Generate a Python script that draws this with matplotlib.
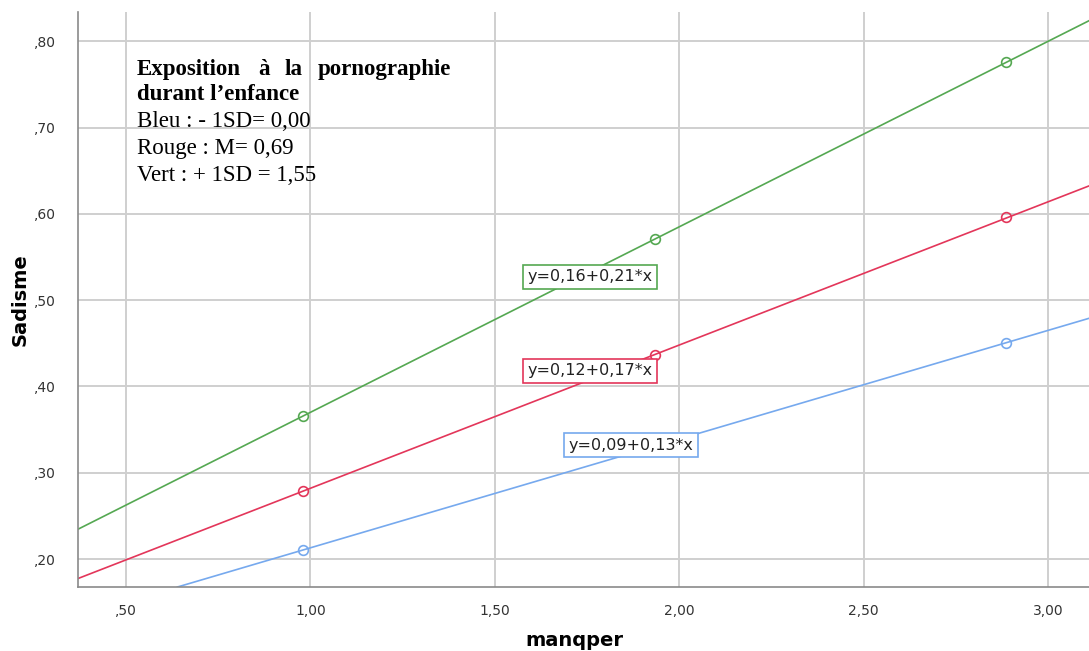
import matplotlib.pyplot as plt
from matplotlib.ticker import FuncFormatter

# values
x_points = [0.98, 1.934, 2.886]
green_y = [0.366, 0.571, 0.776]
red_y = [0.279, 0.437, 0.596]
blue_y = [0.210, 0.330, 0.450]

intercepts = [0.155, 0.116, 0.087]
slopes = [0.215, 0.166, 0.126]
equations = ["y=0,16+0,21*x", "y=0,12+0,17*x", "y=0,09+0,13*x"]
label_pos = [(1.758, 0.527), (1.758, 0.418), (1.869, 0.332)]
colors = ["#55a852", "#e3365a", "#76a9ee"]

x_ticks = [0.5, 1.0, 1.5, 2.0, 2.5, 3.0]
y_ticks = [0.2, 0.3, 0.4, 0.5, 0.6, 0.7, 0.8]

title_words = ["Exposition", "à", "la", "pornographie"]
note_bold = ["durant l\u2019enfance"]
note_plain = ["Bleu : - 1SD= 0,00", "Rouge : M= 0,69", "Vert : + 1SD = 1,55"]


def spss_fmt(v, pos):
    s = f"{v:.2f}".replace(".", ",")
    if s.startswith("0"):
        s = s[1:]
    return s


fig = plt.figure(figsize=(10.89, 6.51), dpi=100)
ax = fig.add_axes([0.0716, 0.0983, 0.9284, 0.8833])

ax.set_xlim(0.37, 3.111)
ax.set_ylim(0.1676, 0.834)

ax.grid(True, color="#cfcfcf", linewidth=1.4)
ax.set_axisbelow(True)

series_y = [green_y, red_y, blue_y]
for b, m, ys, col in zip(intercepts, slopes, series_y, colors):
    ax.axline((0, b), slope=m, color=col, linewidth=1.2, zorder=2)
    ax.plot(x_points, ys, linestyle="none", marker="o", markersize=7,
            markerfacecolor="none", markeredgecolor=col, markeredgewidth=1.2, zorder=3)

for txt, (lx, ly), col in zip(equations, label_pos, colors):
    ax.text(lx, ly, txt, ha="center", va="center", fontsize=11.5, color="#222222",
            bbox=dict(boxstyle="square,pad=0.3", facecolor="white", edgecolor=col, linewidth=1.2),
            zorder=4)

ax.set_xticks(x_ticks)
ax.set_yticks(y_ticks)
ax.xaxis.set_major_formatter(FuncFormatter(spss_fmt))
ax.yaxis.set_major_formatter(FuncFormatter(spss_fmt))
ax.tick_params(axis="both", length=0, labelsize=10, labelcolor="#333333")
ax.tick_params(axis="x", pad=12)
ax.tick_params(axis="y", pad=16)

for side in ["top", "right"]:
    ax.spines[side].set_visible(False)
for side in ["left", "bottom"]:
    ax.spines[side].set_color("#8a8a8a")
    ax.spines[side].set_linewidth(1.2)

# axis titles
fig.text(574 / 1089, 1 - 640 / 651, "manqper", fontsize=14, fontweight="bold",
         ha="center", va="center")
fig.text(20 / 1089, 1 - 300 / 651, "Sadisme", fontsize=14, fontweight="bold",
         ha="center", va="center", rotation=90)

# note in the upper left (first line justified)
serif = "Liberation Serif"
word_x = [0.0584, 0.1780, 0.2047, 0.3689]
word_ha = ["left", "left", "left", "right"]
for w, wx, wha in zip(title_words, word_x, word_ha):
    ax.text(wx, 0.8904, w, transform=ax.transAxes, fontsize=16.5, fontweight="bold",
            family=serif, va="baseline", ha=wha)

line_y = [0.8470, 0.8000, 0.7530, 0.7061]
for i, line in enumerate(note_bold + note_plain):
    ax.text(0.0584, line_y[i], line, transform=ax.transAxes, fontsize=16.5,
            fontweight="bold" if i < len(note_bold) else "normal",
            family=serif, va="baseline", ha="left")

fig.savefig("out.png", dpi=100)
